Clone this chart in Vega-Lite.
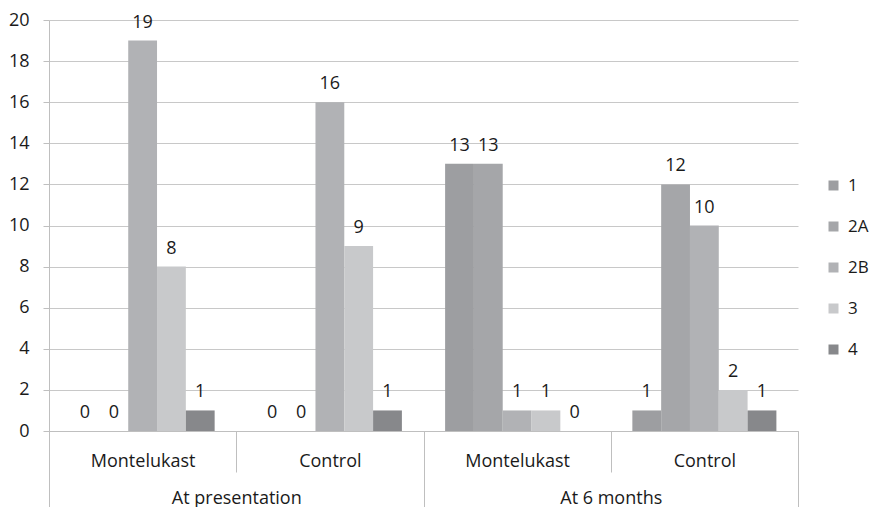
{
  "$schema": "https://vega.github.io/schema/vega-lite/v6.json",
  "width": 749,
  "height": 411,
  "autosize": {"type": "none"},
  "padding": {"left": 49, "top": 20, "right": 74, "bottom": 76},
  "config": {
    "view": {"stroke": null},
    "font": "Open Sans",
    "text": {"font": "Open Sans"}
  },
  "data": {
    "values": [
      {"grp": "At presentation|Montelukast", "time": "At presentation", "series": "1", "count": 0},
      {"grp": "At presentation|Montelukast", "time": "At presentation", "series": "2A", "count": 0},
      {"grp": "At presentation|Montelukast", "time": "At presentation", "series": "2B", "count": 19},
      {"grp": "At presentation|Montelukast", "time": "At presentation", "series": "3", "count": 8},
      {"grp": "At presentation|Montelukast", "time": "At presentation", "series": "4", "count": 1},
      {"grp": "At presentation|Control", "time": "At presentation", "series": "1", "count": 0},
      {"grp": "At presentation|Control", "time": "At presentation", "series": "2A", "count": 0},
      {"grp": "At presentation|Control", "time": "At presentation", "series": "2B", "count": 16},
      {"grp": "At presentation|Control", "time": "At presentation", "series": "3", "count": 9},
      {"grp": "At presentation|Control", "time": "At presentation", "series": "4", "count": 1},
      {"grp": "At 6 months|Montelukast", "time": "At 6 months", "series": "1", "count": 13},
      {"grp": "At 6 months|Montelukast", "time": "At 6 months", "series": "2A", "count": 13},
      {"grp": "At 6 months|Montelukast", "time": "At 6 months", "series": "2B", "count": 1},
      {"grp": "At 6 months|Montelukast", "time": "At 6 months", "series": "3", "count": 1},
      {"grp": "At 6 months|Montelukast", "time": "At 6 months", "series": "4", "count": 0},
      {"grp": "At 6 months|Control", "time": "At 6 months", "series": "1", "count": 1},
      {"grp": "At 6 months|Control", "time": "At 6 months", "series": "2A", "count": 12},
      {"grp": "At 6 months|Control", "time": "At 6 months", "series": "2B", "count": 10},
      {"grp": "At 6 months|Control", "time": "At 6 months", "series": "3", "count": 2},
      {"grp": "At 6 months|Control", "time": "At 6 months", "series": "4", "count": 1}
    ]
  },
  "layer": [
    {
      "encoding": {
        "x": {
          "field": "grp",
          "type": "nominal",
          "sort": ["At presentation|Montelukast", "At presentation|Control", "At 6 months|Montelukast", "At 6 months|Control"],
          "scale": {"paddingInner": 0, "paddingOuter": 0},
          "axis": {
            "orient": "bottom",
            "title": null,
            "labelAngle": 0,
            "labelExpr": "split(datum.label, '|')[1]",
            "tickBand": "extent",
            "tickSize": 41,
            "tickColor": "#bfbfbf",
            "domainColor": "#bfbfbf",
            "labelPadding": -11,
            "labelBaseline": "middle",
            "labelFontSize": 18,
            "labelColor": "#1a1a1a",
            "labelFont": "Open Sans",
            "grid": false
          }
        },
        "xOffset": {
          "field": "series",
          "type": "nominal",
          "sort": ["1", "2A", "2B", "3", "4"],
          "scale": {"paddingInner": 0, "paddingOuter": 0.75}
        },
        "y": {
          "field": "count",
          "type": "quantitative",
          "scale": {"domain": [0, 20], "nice": false},
          "axis": {
            "title": null,
            "values": [0, 2, 4, 6, 8, 10, 12, 14, 16, 18, 20],
            "domainColor": "#bfbfbf",
            "tickColor": "#bfbfbf",
            "tickSize": 6,
            "gridColor": "#c8c8c8",
            "labelPadding": 14,
            "labelFontSize": 18,
            "labelColor": "#1a1a1a",
            "labelFont": "Open Sans"
          }
        }
      },
      "layer": [
        {
          "mark": {"type": "bar"},
          "encoding": {
            "color": {
              "field": "series",
              "type": "nominal",
              "sort": ["1", "2A", "2B", "3", "4"],
              "scale": {
                "domain": ["1", "2A", "2B", "3", "4"],
                "range": ["#9d9ea1", "#a5a6a9", "#b1b2b5", "#c8c9cb", "#87888b"]
              },
              "legend": {
                "title": null,
                "orient": "none",
                "legendX": 776,
                "legendY": 157,
                "symbolType": "square",
                "symbolSize": 100,
                "symbolStrokeWidth": 0,
                "labelFontSize": 17,
                "labelColor": "#1a1a1a",
                "labelFont": "Open Sans",
                "rowPadding": 23,
                "labelOffset": 6,
                "labelLimit": 60
              }
            }
          }
        },
        {
          "mark": {"type": "text", "baseline": "bottom", "dy": -9, "fontSize": 18, "color": "#1a1a1a", "font": "Open Sans"},
          "encoding": {
            "text": {"field": "count", "type": "quantitative"}
          }
        }
      ]
    },
    {
      "mark": {"type": "point", "opacity": 0},
      "encoding": {
        "x": {
          "field": "time",
          "type": "nominal",
          "sort": ["At presentation", "At 6 months"],
          "scale": {"paddingInner": 0, "paddingOuter": 0},
          "axis": {
            "orient": "bottom",
            "title": null,
            "labelAngle": 0,
            "tickBand": "extent",
            "tickSize": 76,
            "tickColor": "#bfbfbf",
            "domain": false,
            "labelPadding": -9,
            "labelBaseline": "middle",
            "labelFontSize": 18,
            "labelColor": "#1a1a1a",
            "labelFont": "Open Sans",
            "grid": false
          }
        }
      }
    }
  ],
  "resolve": {"scale": {"x": "independent"}}
}
